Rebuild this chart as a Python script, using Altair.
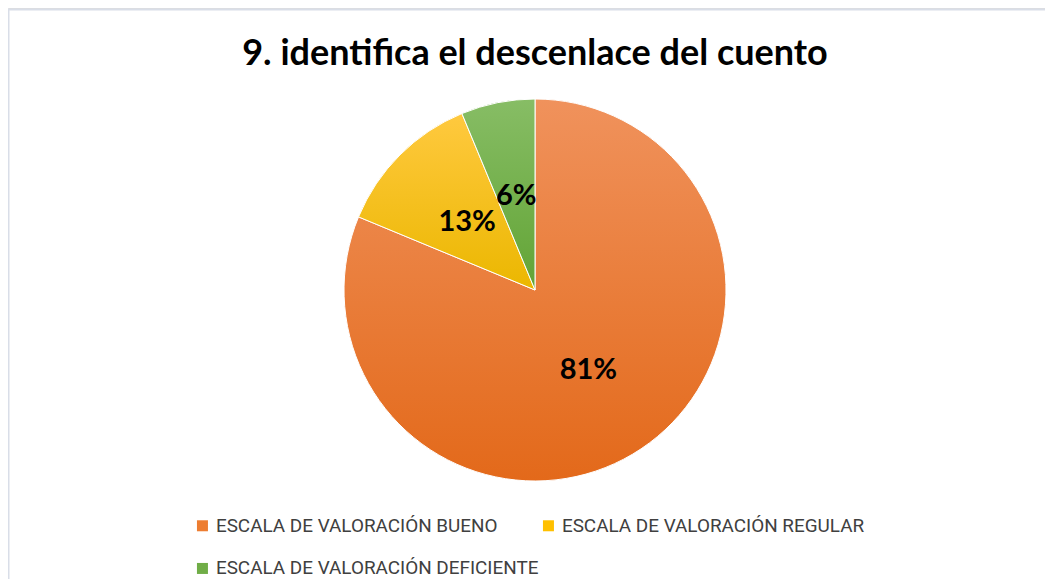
import altair as alt
import pandas as pd

categories = ["ESCALA DE VALORACIÓN BUENO", "ESCALA DE VALORACIÓN REGULAR", "ESCALA DE VALORACIÓN DEFICIENTE"]
values = [13, 2, 1]
labels = ["81%", "13%", "6%"]
order = [1, 2, 3]
colors = ["#ED7D31", "#FFC000", "#70AD47"]
grad_top = ["#F0925C", "#FFC93F", "#87BD65"]
grad_bottom = ["#E3691A", "#EBB700", "#62A435"]

df = pd.DataFrame({"cat": categories, "value": values, "label": labels, "ord": order})

FONT = "Lato"
LEGFONT = "Roboto"
W, H = 1037, 571
CX, CY, R = 527, 282, 191

base = alt.Chart(df).transform_joinaggregate(
    total="sum(value)"
).transform_window(
    cum="sum(value)", sort=[alt.SortField("ord")], frame=[None, 0]
).transform_calculate(
    t0="(datum.cum - datum.value) / datum.total * 2 * PI",
    t1="datum.cum / datum.total * 2 * PI",
    tm="(datum.cum - datum.value / 2) / datum.total * 2 * PI",
)

flat = base.mark_arc(radius=R, stroke="white", strokeWidth=1).encode(
    x=alt.value(CX), y=alt.value(CY),
    theta=alt.Theta("t0:Q", scale=None),
    theta2="t1:Q",
    color=alt.Color(
        "cat:N",
        scale=alt.Scale(domain=categories, range=colors),
        sort=categories,
        legend=alt.Legend(
            title=None, orient="none", legendX=185, legendY=508, padding=0,
            columns=2, direction="horizontal", symbolType="square",
            symbolSize=121, symbolStrokeWidth=0, labelFont=LEGFONT, labelFontSize=18.9,
            labelColor="#404040", columnPadding=0, rowPadding=23, labelOffset=4,
            gridAlign="each", labelLimit=0,
        ),
    ),
)

layers = [flat]
for i, c in enumerate(categories):
    g = alt.Gradient(
        gradient="linear",
        stops=[alt.GradientStop(color=grad_top[i], offset=0),
               alt.GradientStop(color=grad_bottom[i], offset=1)],
        x1=0, x2=0, y1=0, y2=1,
    )
    layers.append(
        base.transform_filter(alt.datum.cat == c).mark_arc(
            radius=R, fill=g, stroke="white", strokeWidth=1
        ).encode(
            x=alt.value(CX), y=alt.value(CY),
            theta=alt.Theta("t0:Q", scale=None),
            theta2="t1:Q",
        )
    )

text = base.mark_text(font=FONT, fontSize=29, fontWeight="bold", color="black", radius=96).encode(
    x=alt.value(CX), y=alt.value(CY),
    theta=alt.Theta("tm:Q", scale=None),
    text="label:N",
)
layers.append(text)

title = alt.Chart(pd.DataFrame({"t": ["9. identifica el descenlace del cuento"]})).mark_text(
    font=FONT, fontSize=36, fontWeight="bold", color="black", baseline="alphabetic"
).encode(x=alt.value(CX), y=alt.value(57), text="t:N")
layers.append(title)

frame_df = pd.DataFrame({"k": [0]})
top_rule = alt.Chart(frame_df).mark_rule(color="#D9DEE8", strokeWidth=2).encode(
    x=alt.value(0), x2=alt.value(W), y=alt.value(1.5)
)
left_rule = alt.Chart(frame_df).mark_rule(color="#D9DEE8", strokeWidth=2).encode(
    x=alt.value(0.5), y=alt.value(1.5), y2=alt.value(H)
)
layers += [top_rule, left_rule]

chart = alt.layer(*layers).properties(
    width=W, height=H, padding=0, autosize=alt.AutoSizeParams(type="none"),
).configure_view(stroke=None).configure(background="white")

chart.save("out.html", embed_options={"renderer": "svg", "actions": False})
